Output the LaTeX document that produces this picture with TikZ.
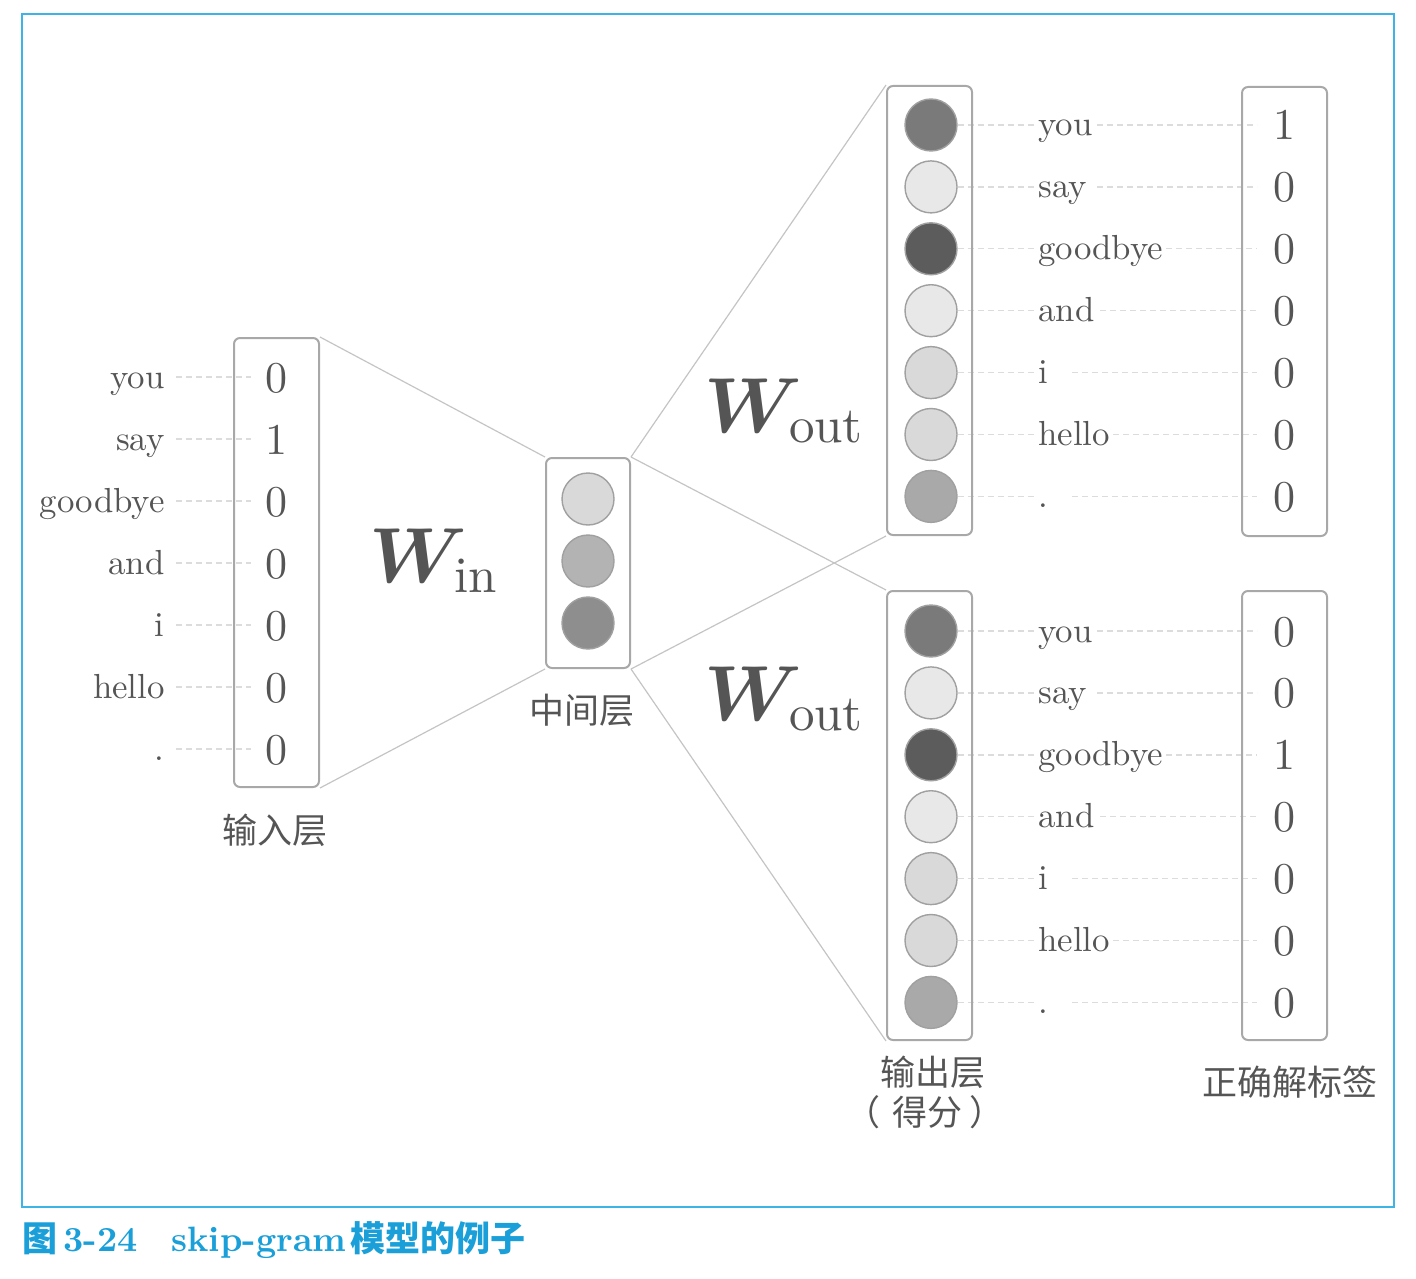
\RequirePackage{fix-cm}
\documentclass[tikz,border=0pt]{standalone}
\usepackage{fontspec}
\usepackage{bm}
\setmainfont{lmroman10-regular.otf}[BoldFont=lmroman10-bold.otf, ItalicFont=lmroman10-italic.otf, BoldItalicFont=lmroman10-bolditalic.otf]
\newfontfamily\cjk{Noto Sans CJK SC}
\definecolor{txt}{HTML}{555555}
\definecolor{boxc}{HTML}{A8A8A8}
\definecolor{ringc}{HTML}{A0A0A0}
\definecolor{linec}{HTML}{C4C4C4}
\definecolor{dashc}{HTML}{DCDCDC}
\definecolor{framec}{HTML}{3DB4E5}
\definecolor{capc}{HTML}{1A9FD9}
\definecolor{fa}{HTML}{7A7A7A}
\definecolor{fb}{HTML}{E8E8E8}
\definecolor{fc}{HTML}{5C5C5C}
\definecolor{fd}{HTML}{D9D9D9}
\definecolor{fe}{HTML}{A9A9A9}
\definecolor{ma}{HTML}{D9D9D9}
\definecolor{mb}{HTML}{B3B3B3}
\definecolor{mc}{HTML}{8E8E8E}
\newcommand\Wlab[1]{{\fontsize{39}{40}\selectfont$\bm{W}$}\hspace{-6.5pt}\raisebox{-5pt}{\fontsize{25.5}{27}\selectfont #1}}
\begin{document}
\begin{tikzpicture}[x=0.5pt,y=-0.5pt,
  word/.style={text=txt, inner sep=0pt, font=\fontsize{17.4}{20}\selectfont},
  digit/.style={text=txt, inner sep=0pt, font=\fontsize{22}{24}\selectfont, anchor=base},
  vbox/.style={draw=boxc, line width=1pt, rounded corners=3pt, inner sep=0pt, minimum width=42.5pt},
  neuron/.style={circle, draw=ringc, line width=0.7pt, minimum size=26pt, inner sep=0pt},
  conn/.style={draw=linec, line width=0.6pt},
  dashl/.style={draw=dashc, line width=0.7pt, dash pattern=on 3pt off 2pt},
  cjklab/.style={text=txt, inner sep=0pt, font=\cjk\fontsize{17.5}{22}\selectfont},
  wlab/.style={text=txt, inner sep=0pt, anchor=base west}]
\useasboundingbox (0,0) rectangle (1416,1278);
\draw[framec, line width=0.75pt] (22,14) rectangle (1394,1207);

% input side
\foreach \w/\d [count=\i from 0] in {you/0,say/1,goodbye/0,and/0,i/0,hello/0,./0} {
  \pgfmathsetmacro\yc{377+62*\i}
  \node[word, anchor=base east] (lw\i) at (165,{\yc+11}) {\w};
  \coordinate (la\i) at (176,\yc);
  \coordinate (lb\i) at (251,\yc);
  \draw[dashl] (la\i) -- (lb\i);
  \node[digit] (ld\i) at (276,{\yc+15}) {\d};
}
\node[vbox, minimum height=224.5pt] (inbox) at (276.5,562.5) {};

% middle
\node[vbox, minimum width=42pt, minimum height=105pt] (midbox) at (588,563) {};
\node[neuron, fill=ma] (m0) at (588,499) {};
\node[neuron, fill=mb] (m1) at (588,561) {};
\node[neuron, fill=mc] (m2) at (588,623) {};

% top output
\foreach \w/\sx/\f/\d [count=\i from 0] in {you/1097/fa/1,say/1097/fb/0,goodbye/1166/fc/0,and/1100/fb/0,i/1072/fd/0,hello/1113/fd/0,./1072/fe/0} {
  \pgfmathsetmacro\yc{125+61.9*\i}
  \node[neuron, fill=\f] (tc\i) at (931,\yc) {};
  \node[word, anchor=base west] (tw\i) at (1038,{\yc+11}) {\w};
  \coordinate (ts\i) at (\sx,\yc);
  \coordinate (te\i) at (1257,\yc);
  \draw[dashl] (tc\i.east) -- ([xshift=-2pt]tc\i.east -| tw\i.west);
  \draw[dashl] (ts\i) -- (te\i);
  \node[digit] (td\i) at (1284,{\yc+15}) {\d};
}
\node[vbox, minimum height=224.5pt] (topout) at (929.5,310.5) {};
\node[vbox, minimum height=224.5pt] (toplab) at (1284.5,311.5) {};

% bottom output
\foreach \w/\sx/\f/\d [count=\i from 0] in {you/1097/fa/0,say/1097/fb/0,goodbye/1166/fc/1,and/1100/fb/0,i/1072/fd/0,hello/1113/fd/0,./1072/fe/0} {
  \pgfmathsetmacro\yc{631+61.9*\i}
  \node[neuron, fill=\f] (bc\i) at (931,\yc) {};
  \node[word, anchor=base west] (bw\i) at (1038,{\yc+11}) {\w};
  \coordinate (bs\i) at (\sx,\yc);
  \coordinate (be\i) at (1257,\yc);
  \draw[dashl] (bc\i.east) -- ([xshift=-2pt]bc\i.east -| bw\i.west);
  \draw[dashl] (bs\i) -- (be\i);
  \node[digit] (bd\i) at (1284,{\yc+15}) {\d};
}
\node[vbox, minimum height=224.5pt] (botout) at (929.5,815.5) {};
\node[vbox, minimum height=224.5pt] (botlab) at (1284.5,815.5) {};

% connectors
\draw[conn] (inbox.north east) -- (midbox.north west);
\draw[conn] (inbox.south east) -- (midbox.south west);
\draw[conn] (midbox.north east) -- (topout.north west);
\draw[conn] (midbox.north east) -- (botout.north west);
\draw[conn] (midbox.south east) -- (topout.south west);
\draw[conn] (midbox.south east) -- (botout.south west);

% weight labels
\node[wlab] (win) at (369,582) {\Wlab{in}};
\node[wlab] (wout1) at (704,432) {\Wlab{out}};
\node[wlab] (wout2) at (704,720) {\Wlab{out}};

% layer labels
\node[cjklab] (lin) at (275,830) {输入层};
\node[cjklab] (lmid) at (582,710) {中间层};
\node[cjklab] (lout) at (933,1072) {输出层};
\node[cjklab] (lscore) at (925,1112) {（\hspace{6pt}得分\hspace{3.5pt}）};
\node[cjklab] (llab) at (1290,1082) {正确解标签};

% caption
\node[anchor=base west, inner sep=0pt, text=capc] (cap) at (22,1251)
  {{\cjk\bfseries\fontsize{17.5}{20}\selectfont 图}\hspace{3pt}{\bfseries\fontsize{17.6}{20}\selectfont 3-24\hspace{17pt}skip-gram}\hspace{2pt}{\cjk\bfseries\fontsize{17.5}{20}\selectfont 模型的例子}};
\end{tikzpicture}
\end{document}
